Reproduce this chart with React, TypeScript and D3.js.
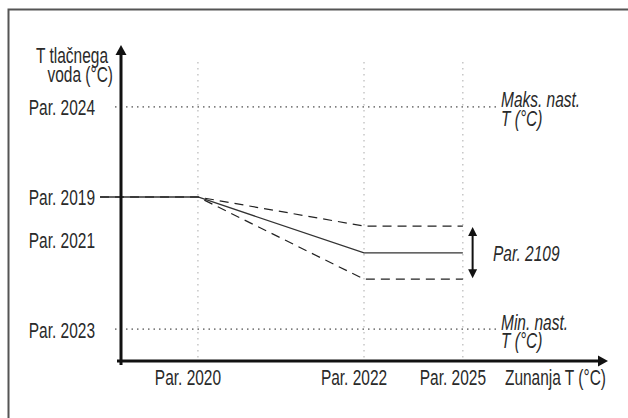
import React from "react";
import * as d3 from "d3";

// Schematic units (abstract)
const xTickLabels = ["Par. 2020", "Par. 2022", "Par. 2025"];
const xTickValues = [15.8, 49.9, 70.2];
const yTickLabels = ["Par. 2024", "Par. 2019", "Par. 2021", "Par. 2023"];
const yTickValues = [80.4, 51.9, 38.3, 10.1];
const curveX = [-4.3, 15.8, 49.9, 70.2];
const curveMid = [51.9, 51.9, 34.2, 34.2];
const curveUpper = [51.9, 51.9, 42.7, 42.7];
const curveLower = [51.9, 51.9, 25.9, 25.9];
const limitLabels = ["Maks. nast.", "Min. nast."];
const limitValues = [80.4, 10.1];
const bandLabel = "Par. 2109";
const xAxisTitle = "Zunanja T (°C)";
const yAxisTitle = ["T tlačnega", "voda (°C)"];

const W = 628;
const H = 418;
const FONT = "'Liberation Sans', Arial, sans-serif";
const TXT = "#2a2a2a";
const FS = 21.5;
const SX = 0.72;

function T(props: {
  x: number;
  y: number;
  anchor?: "start" | "middle" | "end";
  italic?: boolean;
  children: React.ReactNode;
}) {
  return (
    <text
      transform={`translate(${props.x},${props.y}) scale(${SX},1)`}
      fontSize={FS}
      fontFamily={FONT}
      fontStyle={props.italic ? "italic" : "normal"}
      textAnchor={props.anchor || "start"}
      fill={TXT}
    >
      {props.children}
    </text>
  );
}

export default function App() {
  const x = d3.scaleLinear().domain([0, 100]).range([121, 608]);
  const y = d3.scaleLinear().domain([0, 100]).range([361, 45]);
  const line = d3
    .line<number>()
    .x((_, i) => x(curveX[i]))
    .y((d) => y(d));

  const x0 = x(0);
  const y0 = y(0);
  const yTop = y(100);
  const xEnd = x(100);
  const bandX = x(72.2);
  const bandTop = y(curveUpper[3]);
  const bandBot = y(curveLower[3]);
  const bandMid = y(curveMid[3]);

  return (
    <svg
      width={W}
      height={H}
      style={{ position: "absolute", left: 0, top: 0, background: "#fff" }}
    >
      <rect x={8.5} y={9.5} width={700} height={500} fill="none" stroke="#555" strokeWidth={2} />

      {/* vertical dotted grid */}
      {xTickValues.map((v, i) => (
        <line
          key={"vg" + i}
          x1={x(v)}
          x2={x(v)}
          y1={62}
          y2={y0}
          stroke="#aaa"
          strokeWidth={1}
          strokeDasharray="1.5 4.5"
        />
      ))}

      {/* limit dotted lines */}
      {limitValues.map((v, i) => (
        <line
          key={"lim" + i}
          x1={115}
          x2={497}
          y1={y(v)}
          y2={y(v)}
          stroke="#222"
          strokeWidth={1}
          strokeDasharray="1.5 4"
        />
      ))}

      {/* curves */}
      <path d={line(curveUpper) || ""} fill="none" stroke="#222" strokeWidth={1.2} strokeDasharray="9 6" />
      <path d={line(curveLower) || ""} fill="none" stroke="#222" strokeWidth={1.2} strokeDasharray="9 6" />
      <path d={line(curveMid) || ""} fill="none" stroke="#333" strokeWidth={1.3} />

      {/* axes */}
      <line x1={x0} x2={x0} y1={y0 + 4} y2={yTop + 8} stroke="#111" strokeWidth={3} />
      <path d={`M${x0},${yTop} L${x0 - 5.5},${yTop + 10} L${x0 + 5.5},${yTop + 10} Z`} fill="#111" />
      <line x1={x0 - 4} x2={xEnd - 8} y1={y0} y2={y0} stroke="#111" strokeWidth={3} />
      <path d={`M${xEnd},${y0} L${xEnd - 10},${y0 - 5.5} L${xEnd - 10},${y0 + 5.5} Z`} fill="#111" />

      {/* double arrow */}
      <line x1={bandX} x2={bandX} y1={bandTop + 6} y2={bandBot - 6} stroke="#111" strokeWidth={2} />
      <path d={`M${bandX},${bandTop + 1} L${bandX - 4.5},${bandTop + 10} L${bandX + 4.5},${bandTop + 10} Z`} fill="#111" />
      <path d={`M${bandX},${bandBot - 1} L${bandX - 4.5},${bandBot - 10} L${bandX + 4.5},${bandBot - 10} Z`} fill="#111" />
      <T x={493} y={bandMid + 8} italic>
        {bandLabel}
      </T>

      {/* y tick labels */}
      {yTickLabels.map((t, i) => (
        <T key={"yt" + i} x={95} y={y(yTickValues[i]) + 8.5} anchor="end">
          {t}
        </T>
      ))}

      {/* x tick labels */}
      {xTickLabels.map((t, i) => (
        <T key={"xt" + i} x={x(xTickValues[i]) - 10} y={385} anchor="middle">
          {t}
        </T>
      ))}

      {/* limit labels */}
      {limitLabels.map((t, i) => (
        <g key={"ll" + i}>
          <T x={501} y={y(limitValues[i]) + 0.5} italic>
            {t}
          </T>
          <T x={501} y={y(limitValues[i]) + 19} italic>
            T (°C)
          </T>
        </g>
      ))}

      {/* axis titles */}
      <T x={606} y={385} anchor="end">
        {xAxisTitle}
      </T>
      <T x={108} y={63} anchor="end">
        {yAxisTitle[0]}
      </T>
      <T x={113} y={82} anchor="end">
        {yAxisTitle[1]}
      </T>
    </svg>
  );
}
